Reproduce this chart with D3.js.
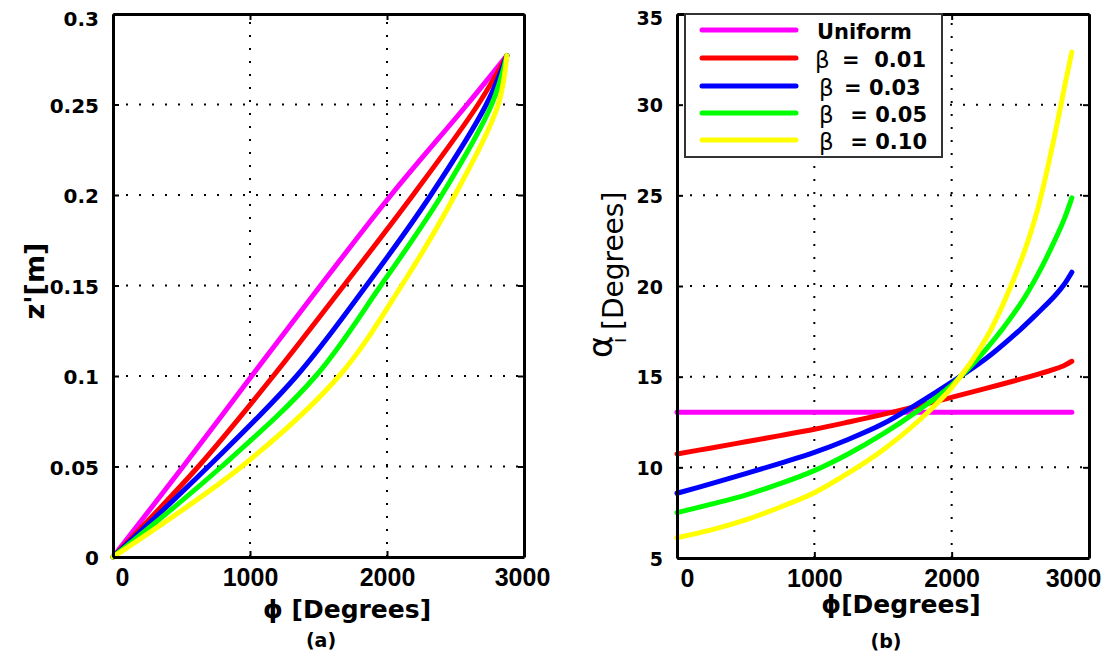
<!DOCTYPE html>
<html><head><meta charset="utf-8">
<script src="https://cdn.jsdelivr.net/npm/d3@7"></script>
<style>
body{margin:0;background:#fff;}
svg{display:block;}
.ttl{font-family:"DejaVu Sans",sans-serif;font-weight:bold;fill:#000;}
</style></head>
<body><svg id="c" width="1115" height="655"></svg>
<script>
// ---- data ----
// panel (a): phi [Degrees] at which each curve reaches the z' levels
const zLevels    = [0,0.05,0.10,0.15,0.20,0.25,0.277];
const phiUniform = [0,512,1012,1515,2030,2585,2875];
const phiBeta001 = [0,623,1170,1685,2190,2665,2875];
const phiBeta003 = [0,696,1340,1850,2320,2725,2875];
const phiBeta005 = [0,793,1480,1955,2400,2764,2875];
const phiBeta010 = [0,939,1650,2107,2496,2812,2875];

// panel (b): alpha_i [Degrees] sampled at phi
const phi      = [0,250,500,750,1000,1250,1500,1750,2000,2250,2500,2625,2750,2820,2875];
const aUniform = [13.04,13.04,13.04,13.04,13.04,13.04,13.04,13.04,13.04,13.04,13.04,13.04,13.04,13.04,13.04];
const aBeta001 = [10.74,11.07,11.41,11.75,12.1,12.5,12.92,13.38,13.86,14.35,14.86,15.13,15.42,15.62,15.85];
const aBeta003 = [8.57,9.1,9.65,10.22,10.82,11.55,12.4,13.5,14.7,16.0,17.6,18.5,19.45,20.1,20.76];
const aBeta005 = [7.5,7.97,8.47,9.1,9.82,10.75,11.84,13.1,14.54,16.5,19.0,20.6,22.5,23.7,24.86];
const aBeta010 = [6.12,6.55,7.1,7.8,8.6,9.7,10.96,12.5,14.4,17.1,21.3,24.2,28.3,30.9,32.9];

const seriesNames = ["Uniform","β = 0.01","β = 0.03","β = 0.05","β = 0.10"];
const legendRest = [null,"=  0.01","= 0.03"," = 0.05"," = 0.10"];
const colors = ["#ff00ff","#ff0000","#0000ff","#00ff00","#ffff00"];

const xTicks = [0,1000,2000,3000];
const yTicksA = [0,0.05,0.1,0.15,0.2,0.25,0.3];
const yTickLabelsA = ["0","0.05","0.1","0.15","0.2","0.25","0.3"];
const yTicksB = [5,10,15,20,25,30,35];

const seriesA = [phiUniform,phiBeta001,phiBeta003,phiBeta005,phiBeta010]
  .map(p=>p.map((v,i)=>[v,zLevels[i]]));
const seriesB = [aUniform,aBeta001,aBeta003,aBeta005,aBeta010]
  .map(a=>a.map((v,i)=>[phi[i],v]));

// ---- drawing ----
const svg = d3.select("#c");

function panel(opts){
  const {x,y,yTicks,yLabels,ySize,series,xNudge} = opts;
  const g = svg.append("g");
  const [x0,x1] = x.range(), [y0,y1] = y.range();
  // grid
  const grid = g.append("g").attr("stroke","#000").attr("stroke-width",2).attr("stroke-dasharray","2,11");
  grid.selectAll("line.gx").data(xTicks.filter(t=>t>x.domain()[0]&&t<x.domain()[1])).join("line")
    .attr("class","gx").attr("x1",d=>x(d)).attr("x2",d=>x(d)).attr("y1",y0).attr("y2",y1);
  grid.selectAll("line.gy").data(yTicks.filter(t=>t>y.domain()[0]&&t<y.domain()[1])).join("line")
    .attr("class","gy").attr("y1",d=>y(d)).attr("y2",d=>y(d)).attr("x1",x0).attr("x2",x1);
  // lines
  const line = d3.line().x(d=>x(d[0])).y(d=>y(d[1])).curve(d3.curveCatmullRom.alpha(0.5));
  g.selectAll("path.s").data(series).join("path").attr("class","s")
    .attr("d",line).attr("fill","none").attr("stroke",(d,i)=>colors[i])
    .attr("stroke-width",5).attr("stroke-linecap","round").attr("stroke-linejoin","round");
  // axes (inward ticks on all four sides)
  const ax = [
    [d3.axisBottom(x).tickValues(xTicks).tickSize(-6).tickSizeOuter(0).tickPadding(11).tickFormat(d3.format("d")), `translate(0,${y0})`, "b"],
    [d3.axisTop(x).tickValues(xTicks).tickSize(-6).tickSizeOuter(0).tickFormat(""), `translate(0,${y1})`, "t"],
    [d3.axisLeft(y).tickValues(yTicks).tickSize(-6).tickSizeOuter(0).tickPadding(14).tickFormat((d,i)=>yLabels[i]), `translate(${x0},0)`, "l"],
    [d3.axisRight(y).tickValues(yTicks).tickSize(-6).tickSizeOuter(0).tickFormat(""), `translate(${x1},0)`, "r"]
  ];
  ax.forEach(([a,tr,k])=>{
    const ag = g.append("g").attr("transform",tr).call(a);
    ag.select(".domain").attr("stroke","#000").attr("stroke-width",3);
    ag.selectAll(".tick line").attr("stroke","#000").attr("stroke-width",2);
    if(k==="b"){
      ag.selectAll(".tick text")
        .style("font-family","'Liberation Sans',Arial,sans-serif").style("font-weight","bold")
        .style("font-size","25px").attr("fill","#000").attr("dy","0.71em")
        .attr("dx",(d,i)=>xNudge[i]);
    }
    if(k==="l"){
      ag.selectAll(".tick text")
        .style("font-family","'DejaVu Sans',sans-serif").style("font-weight","bold")
        .style("font-size",ySize+"px").attr("fill","#000")
        .attr("dy",(d,i)=>i===yTicks.length-1?"0.55em":"0.38em");
    }
  });
  return g;
}

const xA = d3.scaleLinear().domain([0,3000]).range([113,524]);
const yA = d3.scaleLinear().domain([0,0.3]).range([557,14]);
const xB = d3.scaleLinear().domain([0,3000]).range([677,1089]);
const yB = d3.scaleLinear().domain([5,35]).range([558,14]);

panel({x:xA,y:yA,yTicks:yTicksA,yLabels:yTickLabelsA,ySize:20,series:seriesA,xNudge:[9,0,0,-2]});
panel({x:xB,y:yB,yTicks:yTicksB,yLabels:yTicksB.map(String),ySize:19,series:seriesB,xNudge:[10,0,0,-16]});

// titles panel (a)
svg.append("text").attr("class","ttl").attr("x",347).attr("y",618).attr("text-anchor","middle")
  .style("font-size","25px").text("ϕ [Degrees]");
svg.append("text").attr("class","ttl").attr("x",321).attr("y",647).attr("text-anchor","middle")
  .style("font-size","19px").text("(a)");
svg.append("text").attr("class","ttl").attr("transform","translate(44,281) rotate(-90)")
  .attr("text-anchor","middle").style("font-size","27px").text("z'[m]");

// titles panel (b)
svg.append("text").attr("class","ttl").attr("x",901).attr("y",613).attr("text-anchor","middle")
  .style("font-size","25px").text("ϕ[Degrees]");
svg.append("text").attr("class","ttl").attr("x",886).attr("y",648).attr("text-anchor","middle")
  .style("font-size","19px").text("(b)");
svg.append("text").attr("transform","translate(612,358) rotate(-90)")
  .style("font-family","DejaVu Sans,sans-serif").style("font-size","34px").text("α");
svg.append("text").attr("transform","translate(626,343) rotate(-90)")
  .style("font-family","DejaVu Sans,sans-serif").style("font-size","19px").text("i");
svg.append("text").attr("transform","translate(623,330) rotate(-90)")
  .style("font-family","DejaVu Sans,sans-serif").style("font-size","28px").text("[Degrees]");

// legend
const lg = svg.append("g");
lg.append("rect").attr("x",685).attr("y",14).attr("width",257).attr("height",143)
  .attr("fill","#fff").attr("stroke","#333").attr("stroke-width",2);
const rowY = [30,58,86,113,140];
seriesNames.forEach((n,i)=>{
  lg.append("line").attr("x1",702).attr("x2",796).attr("y1",rowY[i]).attr("y2",rowY[i])
    .attr("stroke",colors[i]).attr("stroke-width",5).attr("stroke-linecap","round");
  if(legendRest[i]===null){
    lg.append("text").attr("class","ttl").attr("x",817).attr("y",rowY[i]+9)
      .style("font-size","21px").text(n);
  } else {
    lg.append("text").attr("x",i===1?815:819).attr("y",rowY[i]+10)
      .style("font-family","DejaVu Sans,sans-serif").style("font-size","23px").text("β");
    lg.append("text").attr("class","ttl").attr("x",i===1?842:(i===2?844:843)).attr("y",rowY[i]+9)
      .style("font-size","21px").style("white-space","pre").text(legendRest[i]);
  }
});
</script></body></html>
